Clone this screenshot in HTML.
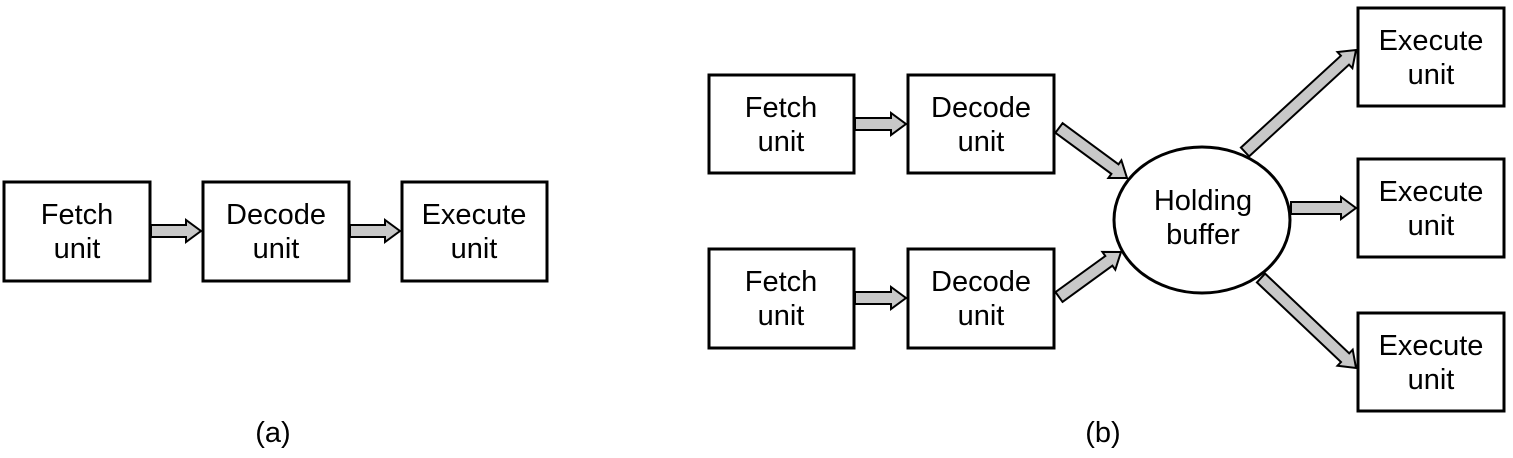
<!DOCTYPE html>
<html><head><meta charset="utf-8"><style>
html,body{margin:0;padding:0;background:#fff;}
svg{display:block;}
text{font-family:"Liberation Sans",Arial,sans-serif;font-size:29px;fill:#000;text-anchor:middle;}
</style></head><body>
<svg id="s" width="1513" height="458" viewBox="0 0 1513 458" xmlns="http://www.w3.org/2000/svg">
<g fill="#fff" stroke="#000" stroke-width="3">
<rect x="4" y="182" width="146" height="99"/>
<rect x="203" y="182" width="146" height="99"/>
<rect x="402" y="182" width="145" height="99"/>
<rect x="709" y="75" width="145" height="98"/>
<rect x="908" y="75" width="146" height="98"/>
<rect x="709" y="249" width="145" height="99"/>
<rect x="908" y="249" width="146" height="99"/>
<rect x="1358" y="8" width="146" height="98"/>
<rect x="1358" y="159" width="146" height="98"/>
<rect x="1358" y="313" width="146" height="98"/>
<ellipse cx="1202" cy="220" rx="88" ry="73"/>
</g>
<g id="arrows" fill="#c8c8c8" stroke="#000" stroke-width="2" stroke-linejoin="miter"></g>
<text x="77" y="224">Fetch</text><text x="77" y="258">unit</text>
<text x="276" y="224">Decode</text><text x="276" y="258">unit</text>
<text x="474" y="224">Execute</text><text x="474" y="258">unit</text>
<text x="781" y="117">Fetch</text><text x="781" y="151">unit</text>
<text x="981" y="117">Decode</text><text x="981" y="151">unit</text>
<text x="781" y="291">Fetch</text><text x="781" y="325">unit</text>
<text x="981" y="291">Decode</text><text x="981" y="325">unit</text>
<text x="1203" y="210">Holding</text><text x="1203" y="244">buffer</text>
<text x="1431" y="50">Execute</text><text x="1431" y="84">unit</text>
<text x="1431" y="201">Execute</text><text x="1431" y="235">unit</text>
<text x="1431" y="355">Execute</text><text x="1431" y="389">unit</text>
<text x="273" y="442">(a)</text>
<text x="1103" y="442">(b)</text>
</svg>
<script>
var g=document.getElementById('arrows');
function ar(x1,y1,x2,y2){
 var dx=x2-x1,dy=y2-y1,L=Math.hypot(dx,dy),ux=dx/L,uy=dy/L,nx=-uy,ny=ux;
 var sw=6,hw=11,hl=15;
 var bx=x2-ux*hl,by=y2-uy*hl;
 var p=[[x1+nx*sw,y1+ny*sw],[bx+nx*sw,by+ny*sw],[bx+nx*hw,by+ny*hw],[x2,y2],[bx-nx*hw,by-ny*hw],[bx-nx*sw,by-ny*sw],[x1-nx*sw,y1-ny*sw]];
 var e=document.createElementNS('http://www.w3.org/2000/svg','polygon');
 e.setAttribute('points',p.map(function(q){return q[0].toFixed(1)+','+q[1].toFixed(1)}).join(' '));
 g.appendChild(e);
}
ar(151,231,201,231);ar(350,231,400,231);
ar(855,124,906,124);ar(855,298,906,298);
ar(1059,128,1127,178);ar(1059,297,1121,252);
ar(1245,152,1356,50);ar(1291,208,1356,208);ar(1261,278,1356,368);
</script>
</body></html>
